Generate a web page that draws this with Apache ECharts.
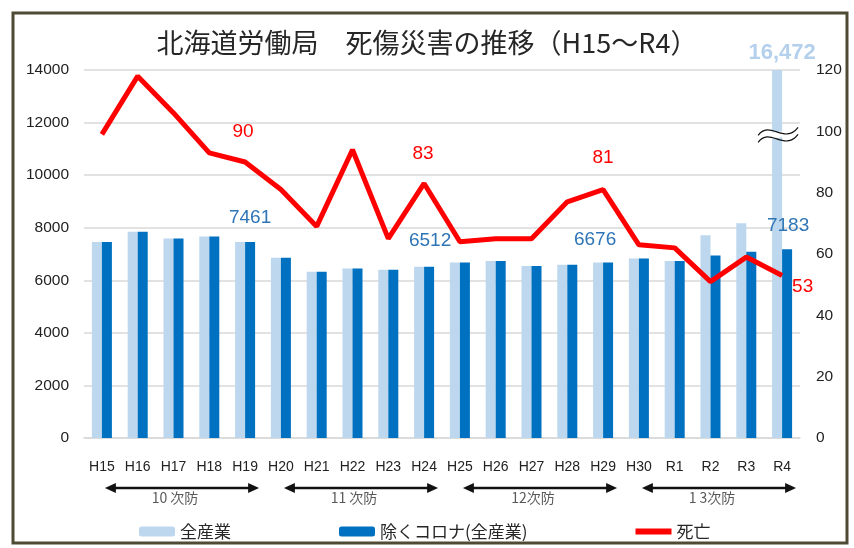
<!DOCTYPE html>
<html>
<head>
<meta charset="utf-8">
<script src="https://cdn.jsdelivr.net/npm/echarts@6/dist/echarts.min.js"></script>
<style>
  html, body { margin: 0; padding: 0; background: #fff; }
  #main { width: 854px; height: 548px; }
</style>
</head>
<body>
<div id="main"></div>
<script>
// values
var years = ['H15','H16','H17','H18','H19','H20','H21','H22','H23','H24',
             'H25','H26','H27','H28','H29','H30','R1','R2','R3','R4'];
var allIndustry = [7461, 7850, 7585, 7670, 7461, 6860, 6325, 6450, 6400, 6512,
                   6680, 6730, 6540, 6590, 6676, 6830, 6730, 7710, 8170, 16472];
var exCorona = [7461, 7850, 7585, 7670, 7461, 6860, 6325, 6450, 6400, 6512,
                6680, 6730, 6540, 6590, 6676, 6830, 6730, 6946, 7088, 7183];
var deaths = [99, 118, 106, 93, 90, 81, 69, 94, 65, 83,
              64, 65, 65, 77, 81, 63, 62, 51, 59, 53];
var periodNames = ['10 次防', '11 次防', '12次防', '1 3次防'];
var periodStart = ['H15', 'H20', 'H25', 'H30'];
var periodEnd = ['H19', 'H24', 'H29', 'R4'];

var NUM = "'Liberation Sans', Arial, sans-serif";
var JP = "'Noto Sans CJK JP', sans-serif";

// which points carry a value label, and where it sits
var barLabels = { 4: [0, -10], 9: [1, -12], 14: [-13, -8], 19: [1, -9] };
var lineLabels = { 4: ['top', [-2, -16]], 9: ['top', [-1, -15]], 14: ['top', [0, -17]], 19: ['right', [5, 11]] };

var myChart = echarts.init(document.getElementById('main'));

var barData = exCorona.map(function (v, i) {
  if (!barLabels[i]) return v;
  return {
    value: v,
    label: { show: true, position: 'top', offset: barLabels[i], color: '#2E75B6',
             fontSize: 19, fontFamily: NUM }
  };
});

var lineData = deaths.map(function (v, i) {
  if (!lineLabels[i]) return v;
  return {
    value: v,
    label: { show: true, position: lineLabels[i][0], offset: lineLabels[i][1], color: '#FF0000',
             fontSize: 19, fontFamily: NUM }
  };
});

function plain(v) { return String(v); }

var option = {
  animation: false,
  title: {
    text: '北海道労働局　死傷災害の推移（H15～R4）',
    left: 'center',
    top: 24,
    textStyle: { fontFamily: JP, fontSize: 27, fontWeight: 'normal', color: '#262626' }
  },
  legend: {
    left: 134,
    top: 518,
    itemWidth: 36,
    itemHeight: 10,
    itemGap: 108,
    textStyle: { fontFamily: JP, fontSize: 17, color: '#262626' },
    data: [
      { name: '全産業' },
      { name: '除くコロナ(全産業)' },
      { name: '死亡', icon: 'path://M0,0 L36,0 L36,6 L0,6 Z' }
    ]
  },
  grid: { left: 84, right: 54, top: 70, bottom: 110 },
  xAxis: {
    type: 'category',
    data: years,
    axisLine: { lineStyle: { color: '#D9D9D9', width: 1.5 } },
    axisTick: { show: false },
    axisLabel: { color: '#222', fontFamily: NUM, fontSize: 14, margin: 22, interval: 0 }
  },
  yAxis: [
    {
      type: 'value', min: 0, max: 14000, interval: 2000,
      axisLine: { show: false }, axisTick: { show: false },
      axisLabel: { color: '#222', fontFamily: NUM, fontSize: 15.5, margin: 15, formatter: plain },
      splitLine: { lineStyle: { color: '#D9D9D9', width: 1.5 } }
    },
    {
      type: 'value', min: 0, max: 120, interval: 20,
      axisLine: { show: false }, axisTick: { show: false },
      axisLabel: { color: '#222', fontFamily: NUM, fontSize: 15.5, margin: 16, formatter: plain },
      splitLine: { show: false }
    }
  ],
  series: [
    {
      name: '全産業',
      type: 'bar',
      data: allIndustry,
      barWidth: 10,
      barGap: '0%',
      itemStyle: { color: '#BDD7EE' },
      markPoint: {
        symbol: 'circle',
        symbolSize: 0,
        data: [{
          coord: [years[19], 14000],
          value: allIndustry[19],
          label: {
            show: true, position: 'top', offset: [5, -1],
            formatter: function (p) { return p.value.toLocaleString('en-US'); },
            color: '#B4D0EC', fontSize: 22, fontWeight: 'bold', fontFamily: NUM
          }
        }]
      }
    },
    {
      name: '除くコロナ(全産業)',
      type: 'bar',
      data: barData,
      barWidth: 10,
      itemStyle: { color: '#0070C0' }
    },
    {
      name: '死亡',
      type: 'line',
      yAxisIndex: 1,
      data: lineData,
      symbol: 'circle',
      symbolSize: 0,
      showSymbol: true,
      lineStyle: { color: '#FF0000', width: 5 },
      itemStyle: { color: '#FF0000' },
      z: 5
    }
  ]
};

myChart.setOption(option);

// annotations placed through the axes: period arrows, break mark, frame
var graphics = [];
var arrowY = 488;
periodNames.forEach(function (name, i) {
  var x1 = myChart.convertToPixel({ xAxisIndex: 0 }, periodStart[i]) + 3;
  var x2 = myChart.convertToPixel({ xAxisIndex: 0 }, periodEnd[i]) + 14;
  graphics.push({
    type: 'line',
    shape: { x1: x1 + 6, y1: arrowY, x2: x2 - 6, y2: arrowY },
    style: { stroke: '#111', lineWidth: 2.5 }
  });
  graphics.push({
    type: 'polygon',
    shape: { points: [[x1, arrowY], [x1 + 11, arrowY - 5], [x1 + 11, arrowY + 5]] },
    style: { fill: '#111' }
  });
  graphics.push({
    type: 'polygon',
    shape: { points: [[x2, arrowY], [x2 - 11, arrowY - 5], [x2 - 11, arrowY + 5]] },
    style: { fill: '#111' }
  });
  graphics.push({
    type: 'text',
    x: (x1 + x2) / 2 - 7,
    y: arrowY + 10,
    style: { text: name, fill: '#595959', font: '14px ' + JP, textAlign: 'center', textVerticalAlign: 'middle' }
  });
});

// wavy break mark on the clipped R4 bar
var bx = myChart.convertToPixel({ xAxisIndex: 0 }, years[19]) - 4;
var by = myChart.convertToPixel({ yAxisIndex: 1 }, 100) + 6;
graphics.push({
  type: 'polygon',
  shape: { points: [[bx - 12, by - 4], [bx + 12, by - 7], [bx + 12, by - 1], [bx - 12, by + 2]] },
  style: { fill: '#fff' },
  z: 10
});
[-4, 3].forEach(function (d) {
  graphics.push({
    type: 'bezierCurve',
    shape: { x1: bx - 20, y1: by + d + 2, cpx1: bx - 8, cpy1: by + d - 14, cpx2: bx + 6, cpy2: by + d + 12, x2: bx + 20, y2: by + d - 6 },
    style: { stroke: '#111', lineWidth: 1.2, fill: null },
    z: 11
  });
});

// outer frame
graphics.push({
  type: 'rect',
  shape: { x: 13, y: 13, width: 834, height: 530 },
  style: { fill: null, stroke: '#4F4A34', lineWidth: 3 },
  z: 20
});

myChart.setOption({ graphic: graphics });
</script>
</body>
</html>
